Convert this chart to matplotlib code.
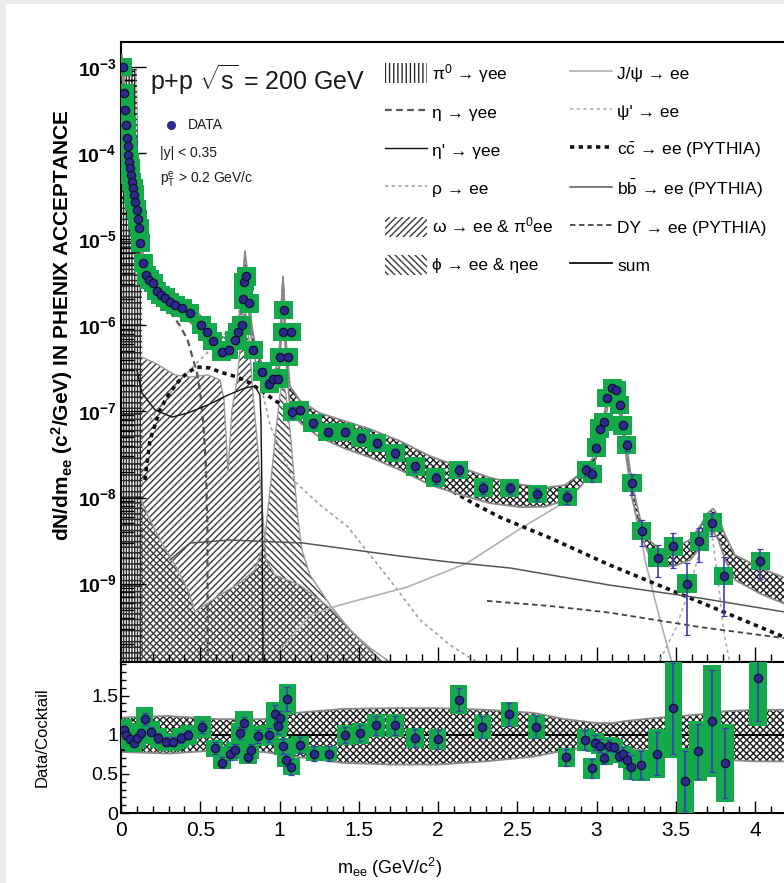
import numpy as np
import matplotlib.pyplot as plt
from matplotlib import font_manager
from matplotlib.patches import Patch, Rectangle
from matplotlib.lines import Line2D
from matplotlib.ticker import MultipleLocator, LogLocator, NullFormatter, FuncFormatter

plt.rcParams['font.family'] = ['Liberation Sans', 'DejaVu Sans']
plt.rcParams['mathtext.fontset'] = 'custom'
plt.rcParams['mathtext.rm'] = 'Liberation Sans'
plt.rcParams['mathtext.it'] = 'Liberation Sans:italic'
plt.rcParams['mathtext.bf'] = 'Liberation Sans:bold'
plt.rcParams['hatch.linewidth'] = 1.0

_names = {f.name for f in font_manager.fontManager.ttflist}
NARROW = 'Liberation Sans Narrow' if 'Liberation Sans Narrow' in _names else 'Liberation Sans'

# ---- measured spectrum (dN/dm in acceptance) ----
data_mass = [0.011, 0.019, 0.025, 0.032, 0.036, 0.042, 0.047, 0.052, 0.057, 0.063,
             0.069, 0.076, 0.082, 0.088, 0.098, 0.105, 0.114, 0.123, 0.139, 0.158,
             0.177, 0.202, 0.227, 0.252, 0.278, 0.309, 0.341, 0.385, 0.435, 0.505,
             0.543, 0.580, 0.637, 0.681, 0.719, 0.738, 0.763, 0.770, 0.776, 0.789,
             0.808, 0.833, 0.890, 0.934, 0.959, 0.991, 1.003, 1.022, 1.028, 1.054,
             1.073, 1.080, 1.129, 1.211, 1.306, 1.413, 1.514, 1.615, 1.729, 1.855,
             1.987, 2.132, 2.284, 2.454, 2.625, 2.814, 2.934, 2.972, 2.997, 3.022,
             3.047, 3.066, 3.098, 3.123, 3.148, 3.167, 3.192, 3.224, 3.287, 3.388,
             3.483, 3.571, 3.647, 3.729, 3.804, 4.032]
data_val = [1.0e-3, 5.0e-4, 3.2e-4, 2.1e-4, 1.5e-4, 1.2e-4, 9.5e-5, 7.9e-5, 6.7e-5, 5.6e-5,
            4.6e-5, 3.9e-5, 3.3e-5, 2.7e-5, 2.2e-5, 1.7e-5, 1.35e-5, 9.0e-6, 5.3e-6, 3.8e-6,
            3.4e-6, 3.1e-6, 2.5e-6, 2.25e-6, 2.1e-6, 1.87e-6, 1.72e-6, 1.59e-6, 1.39e-6, 1.01e-6,
            8.4e-7, 6.6e-7, 4.9e-7, 5.2e-7, 6.7e-7, 8.4e-7, 1.0e-6, 2.0e-6, 3.2e-6, 3.7e-6,
            1.8e-6, 5.2e-7, 2.9e-7, 2.1e-7, 2.4e-7, 2.4e-7, 4.3e-7, 8.4e-7, 1.5e-6, 4.3e-7,
            8.4e-7, 9.8e-8, 1.04e-7, 7.3e-8, 5.8e-8, 5.8e-8, 4.9e-8, 4.3e-8, 3.3e-8, 2.3e-8,
            1.7e-8, 2.1e-8, 1.3e-8, 1.29e-8, 1.1e-8, 1.01e-8, 2.1e-8, 1.87e-8, 3.8e-8, 6.3e-8,
            7.5e-8, 1.43e-7, 1.87e-7, 1.77e-7, 1.19e-7, 6.9e-8, 4.1e-8, 1.47e-8, 4.1e-9, 2.0e-9,
            2.7e-9, 1.0e-9, 3.1e-9, 5.1e-9, 1.22e-9, 1.83e-9]
data_err = [3e-5, 2e-5, 1.2e-5, 8e-6, 6e-6, 5e-6, 4e-6, 3e-6, 3e-6, 2e-6,
            2e-6, 1.5e-6, 1.3e-6, 1.1e-6, 9e-7, 7e-7, 6e-7, 4e-7, 3e-7, 2e-7,
            2e-7, 2e-7, 1.5e-7, 1.4e-7, 1.3e-7, 1.2e-7, 1.1e-7, 1e-7, 1e-7, 8e-8,
            7e-8, 6e-8, 5e-8, 5e-8, 6e-8, 7e-8, 8e-8, 1.2e-7, 1.8e-7, 2e-7,
            1.2e-7, 5e-8, 3e-8, 2.5e-8, 2.5e-8, 2.5e-8, 4e-8, 6e-8, 1e-7, 4e-8,
            6e-8, 1.5e-8, 1e-8, 8e-9, 6e-9, 6e-9, 5e-9, 5e-9, 4e-9, 3e-9,
            2.5e-9, 3e-9, 2e-9, 2e-9, 1.8e-9, 1.8e-9, 3e-9, 3.5e-9, 4e-9, 5e-9,
            6e-9, 9e-9, 1e-8, 1e-8, 8e-9, 6e-9, 6e-9, 4e-9, 1.4e-9, 8e-10,
            1.2e-9, 7.5e-10, 1.3e-9, 1.5e-9, 8e-10, 7e-10]

# ---- cocktail components ----
pi0_mass = [0.003, 0.100, 0.110, 0.125, 0.133, 0.136]
pi0_top = [9.5e-4, 9.5e-4, 4e-5, 1.5e-5, 6e-6, 1.23e-10]

eta_mass = [0.005, 0.05, 0.10, 0.14, 0.20, 0.26, 0.32, 0.37, 0.42, 0.455, 0.48, 0.50, 0.52, 0.535, 0.545, 0.547]
eta_val = [5e-5, 2.0e-5, 8e-6, 4.0e-6, 2.2e-6, 1.7e-6, 1.35e-6, 1.0e-6, 6.8e-7, 4.0e-7, 2.8e-7, 1.6e-7, 7e-8, 2.5e-8, 5e-9, 1.2e-10]

etap_mass = [0.101, 0.132, 0.215, 0.322, 0.423, 0.549, 0.675, 0.782, 0.845, 0.877, 0.883, 0.890, 0.896]
etap_val = [3.0e-7, 1.64e-7, 1.04e-7, 8.6e-8, 9.6e-8, 1.19e-7, 1.55e-7, 1.87e-7, 1.97e-7, 1.55e-7, 7.9e-8, 9.4e-9, 1.2e-10]

rho_mass = [0.183, 0.372, 0.498, 0.625, 0.719, 0.763, 0.789, 0.814, 0.845, 0.890, 0.940,
            1.085, 1.256, 1.432, 1.697, 1.886, 2.076, 2.202, 2.26]
rho_val = [7.9e-8, 2.3e-7, 3.95e-7, 6.75e-7, 1.15e-6, 1.72e-6, 1.82e-6, 1.22e-6, 5.9e-7, 1.77e-7, 6.95e-8,
           1.6e-8, 8.2e-9, 4.55e-9, 1.1e-9, 3.8e-10, 1.94e-10, 1.37e-10, 1.2e-10]

omega_mass = [0.126, 0.215, 0.341, 0.435, 0.549, 0.625, 0.650, 0.675, 0.700, 0.732, 0.757,
              0.782, 0.808, 0.833, 0.864, 0.890, 0.915, 0.972, 1.129, 1.319, 1.508, 1.634]
omega_top = [4.3e-7, 3.65e-7, 2.65e-7, 2.51e-7, 2.65e-7, 2.32e-7, 1.36e-7, 1.98e-8, 1.04e-7, 2.32e-7, 6.75e-7,
             1.72e-6, 6.75e-7, 1.55e-7, 3.56e-8, 8.2e-9, 1.88e-9, 1.26e-9, 9.6e-10, 5.2e-10, 2.2e-10, 1.23e-10]

phi_mass = [0.126, 0.183, 0.246, 0.341, 0.423, 0.467, 0.530, 0.625, 0.751, 0.845, 0.902, 0.927, 0.953,
            0.978, 1.003, 1.022, 1.041, 1.066, 1.091, 1.117, 1.142, 1.192, 1.319, 1.445, 1.571, 1.697]
phi_top = [9.4e-9, 5.5e-9, 3.21e-9, 1.64e-9, 8.4e-10, 4.7e-10, 5.65e-10, 7.4e-10, 1.02e-9, 1.44e-9, 2.81e-9, 7.2e-9, 2.09e-8,
           6.1e-8, 1.55e-7, 2.44e-7, 1.55e-7, 6.1e-8, 1.82e-8, 5.5e-9, 2.45e-9, 1.26e-9, 5.65e-10, 2.9e-10, 1.79e-10, 1.23e-10]

jpsi_mass = [1.003, 1.192, 1.382, 1.804, 2.183, 2.536, 2.751, 2.896, 2.991, 3.054, 3.098,
             3.136, 3.180, 3.243, 3.306, 3.401, 3.476]
jpsi_val = [1.7e-10, 4.3e-10, 5.65e-10, 9.1e-10, 1.73e-9, 4.55e-9, 7.8e-9, 1.40e-8, 3.12e-8, 9.1e-8, 1.77e-7,
            1.36e-7, 4.66e-8, 9.4e-9, 1.88e-9, 3.8e-10, 1.2e-10]

psip_mass = [3.40, 3.50, 3.58, 3.64, 3.68, 3.70, 3.73, 3.77, 3.80, 3.84]
psip_val = [1.3e-10, 3e-10, 8e-10, 2.0e-9, 4.0e-9, 5.0e-9, 3.5e-9, 1.0e-9, 3e-10, 1.2e-10]

cc_mass = [0.151, 0.183, 0.246, 0.290, 0.353, 0.416, 0.480, 0.562, 0.625, 0.732, 0.814, 0.896,
           0.984, 1.129, 1.445, 1.760, 2.221, 2.391, 2.707, 3.085, 3.653, 4.183]
cc_val = [1.6e-8, 4.66e-8, 1.04e-7, 1.47e-7, 2.14e-7, 2.79e-7, 3.28e-7, 3.19e-7, 2.87e-7, 2.51e-7, 2.14e-7, 1.68e-7,
          1.29e-7, 9.6e-8, 5.0e-8, 2.65e-8, 8.6e-9, 5.9e-9, 3.39e-9, 1.64e-9, 6.1e-10, 2.4e-10]

bb_mass = [0.309, 0.435, 0.688, 1.148, 1.382, 1.760, 2.076, 2.454, 3.085, 3.653, 4.183]
bb_val = [1.88e-9, 2.96e-9, 3.21e-9, 2.96e-9, 2.59e-9, 2.09e-9, 1.78e-9, 1.52e-9, 9.6e-10, 6.8e-10, 4.7e-10]

dy_mass = [2.309, 2.707, 3.085, 3.653, 4.183]
dy_val = [6.3e-10, 5.5e-10, 4.6e-10, 3.13e-10, 2.33e-10]

sum_mass = [0.006, 0.019, 0.032, 0.044, 0.063, 0.082, 0.101, 0.114, 0.126, 0.139,
            0.158, 0.183, 0.215, 0.246, 0.309, 0.372, 0.435, 0.498, 0.562, 0.625,
            0.675, 0.713, 0.738, 0.757, 0.770, 0.782, 0.795, 0.808, 0.827, 0.852,
            0.890, 0.927, 0.965, 0.991, 1.003, 1.016, 1.022, 1.028, 1.041, 1.066,
            1.129, 1.256, 1.413, 1.571, 1.760, 1.950, 2.139, 2.328, 2.517, 2.675,
            2.801, 2.896, 2.972, 3.022, 3.054, 3.079, 3.104, 3.129, 3.161, 3.192,
            3.224, 3.274, 3.338, 3.401, 3.495, 3.590, 3.653, 3.703, 3.735, 3.767,
            3.811, 3.874, 4.032, 4.183]
sum_val = [1.14e-3, 5.1e-4, 2.2e-4, 1.0e-4, 5.9e-5, 3.4e-5, 2.1e-5, 1.35e-5, 8.6e-6, 5.4e-6,
           4.05e-6, 3.3e-6, 2.8e-6, 2.37e-6, 1.91e-6, 1.63e-6, 1.39e-6, 1.09e-6, 8.1e-7, 6.2e-7,
           5.9e-7, 7.1e-7, 9.3e-7, 1.32e-6, 2.57e-6, 6.05e-6, 3.84e-6, 1.72e-6, 7.7e-7, 4.5e-7,
           3.0e-7, 2.44e-7, 2.38e-7, 2.87e-7, 5.2e-7, 1.97e-6, 2.94e-6, 1.97e-6, 5.2e-7, 1.55e-7,
           1.04e-7, 7.3e-8, 5.8e-8, 4.66e-8, 3.38e-8, 2.26e-8, 1.69e-8, 1.29e-8, 1.1e-8, 1.04e-8,
           1.16e-8, 1.6e-8, 2.39e-8, 4.66e-8, 9.1e-8, 1.68e-7, 2.03e-7, 1.68e-7, 7.9e-8, 3.12e-8,
           1.22e-8, 4.8e-9, 2.59e-9, 2.04e-9, 2.15e-9, 2.59e-9, 3.67e-9, 5.2e-9, 5.8e-9, 4.8e-9,
           2.81e-9, 1.64e-9, 1.16e-9, 8.9e-10]

# ---- cocktail systematic band (relative) ----
band_mass = [0.0, 0.3, 0.6, 0.9, 1.1, 1.4, 1.7, 2.0, 2.3, 2.6, 2.8, 3.0, 3.1, 3.2, 3.4, 3.6, 3.8, 4.0, 4.3]
band_hi = [1.22, 1.24, 1.20, 1.20, 1.28, 1.33, 1.34, 1.34, 1.32, 1.28, 1.20, 1.15, 1.15, 1.18, 1.22, 1.25, 1.30, 1.32, 1.32]
band_lo = [0.78, 0.76, 0.80, 0.78, 0.72, 0.64, 0.62, 0.62, 0.66, 0.72, 0.80, 0.85, 0.85, 0.82, 0.78, 0.72, 0.68, 0.66, 0.66]

# ---- data / cocktail ----
ratio_mass = [0.016, 0.030, 0.057, 0.080, 0.100, 0.126, 0.150, 0.190, 0.236, 0.283,
              0.330, 0.377, 0.425, 0.513, 0.590, 0.638, 0.685, 0.720, 0.750, 0.777,
              0.800, 0.818, 0.865, 0.934, 0.970, 0.990, 1.000, 1.020, 1.040, 1.050,
              1.075, 1.130, 1.220, 1.310, 1.415, 1.510, 1.610, 1.730, 1.855, 1.997,
              2.130, 2.280, 2.450, 2.620, 2.810, 2.930, 2.970, 2.990, 3.020, 3.050,
              3.080, 3.110, 3.145, 3.170, 3.190, 3.220, 3.280, 3.380, 3.485, 3.560,
              3.640, 3.730, 3.810, 4.020]
ratio_val = [1.06, 1.00, 0.94, 0.89, 0.96, 1.02, 1.20, 1.04, 0.96, 0.91,
             0.91, 0.96, 1.00, 1.10, 0.83, 0.64, 0.76, 0.80, 1.02, 1.15,
             0.72, 0.80, 0.98, 1.00, 1.26, 1.11, 1.21, 0.85, 0.68, 1.46,
             0.59, 0.87, 0.76, 0.76, 1.00, 1.02, 1.12, 1.12, 0.96, 0.94,
             1.45, 1.10, 1.26, 1.10, 0.71, 0.93, 0.57, 0.90, 0.86, 0.70,
             0.86, 0.84, 0.73, 0.76, 0.68, 0.59, 0.61, 0.76, 1.34, 0.41,
             0.79, 1.18, 0.64, 1.72]
ratio_err = [0.05, 0.05, 0.05, 0.05, 0.05, 0.06, 0.08, 0.06, 0.06, 0.06,
             0.06, 0.06, 0.06, 0.08, 0.08, 0.07, 0.08, 0.08, 0.08, 0.08,
             0.07, 0.08, 0.08, 0.09, 0.12, 0.10, 0.10, 0.10, 0.08, 0.15,
             0.10, 0.10, 0.09, 0.09, 0.10, 0.10, 0.12, 0.12, 0.12, 0.12,
             0.15, 0.14, 0.15, 0.14, 0.11, 0.13, 0.12, 0.10, 0.08, 0.07,
             0.07, 0.06, 0.07, 0.08, 0.10, 0.15, 0.18, 0.28, 0.58, 0.38,
             0.35, 0.65, 0.45, 0.55]

GREEN = '#14a94b'
BLUE = '#2c2a8f'
BAR = '#3d3cb8'
YMIN, YMAX = 1.23e-10, 1.95e-3
L = 121 / 784
W = 1.02 - L
XMAX = W * 784 / 158.5

fig = plt.figure(figsize=(7.84, 8.83), dpi=100)
fig.add_artist(Rectangle((0, 0), 6 / 784, 1, transform=fig.transFigure, color='#ebebeb', lw=0))
fig.add_artist(Rectangle((0, 1 - 4 / 883), 1, 4 / 883, transform=fig.transFigure, color='#ebebeb', lw=0))

ax = fig.add_axes([L, 221 / 883, W, 620 / 883])
ax2 = fig.add_axes([L, 70 / 883, W, 151 / 883])

# hatched cocktail pieces
ax.fill_between(pi0_mass, YMIN, pi0_top, facecolor='none', edgecolor='#2a2a2a', hatch='|||+++', lw=0, zorder=1)
ax.fill_between(omega_mass, YMIN, omega_top, facecolor='none', edgecolor='#3a3a3a', hatch='/////', lw=0, zorder=1)
ax.fill_between(phi_mass, YMIN, phi_top, facecolor='none', edgecolor='#3a3a3a', hatch='\\\\\\\\\\', lw=0, zorder=1)
ax.plot(omega_mass, omega_top, color='#999999', lw=1.0, zorder=1.5)
ax.plot(phi_mass, phi_top, color='#999999', lw=1.0, zorder=1.5)

# line components
ax.plot(eta_mass, eta_val, color='#555555', ls=(0, (3, 2)), lw=1.6, zorder=2)
ax.plot(etap_mass, etap_val, color='#111111', lw=1.0, zorder=2)
ax.plot(rho_mass, rho_val, color='#a0a0a0', ls=(0, (2, 2)), lw=1.2, zorder=2)
ax.plot(jpsi_mass, jpsi_val, color='#b0b0b0', lw=1.2, zorder=2)
ax.plot(psip_mass, psip_val, color='#b0b0b0', ls=(0, (2, 2)), lw=1.2, zorder=2)
ax.plot(cc_mass, cc_val, color='#111111', ls=(0, (1.2, 1.2)), lw=2.6, zorder=2)
ax.plot(bb_mass, bb_val, color='#555555', lw=1.1, zorder=2)
ax.plot(dy_mass, dy_val, color='#444444', ls=(0, (3, 2)), lw=1.3, zorder=2)

# sum with its systematic band
sum_m = np.array(sum_mass)
sum_v = np.array(sum_val)
s_hi = sum_v * np.interp(sum_m, band_mass, band_hi)
s_lo = sum_v * np.interp(sum_m, band_mass, band_lo)
ax.plot(sum_m, sum_v, color='#555555', lw=1.6, zorder=2.8)
ax.fill_between(sum_m, s_lo, s_hi, facecolor='white', edgecolor='#1e1e1e', hatch='xxxxx', lw=0, zorder=3)
ax.plot(sum_m, s_hi, color='#8a8a8a', lw=1.3, zorder=3.1)
ax.plot(sum_m, s_lo, color='#8a8a8a', lw=1.3, zorder=3.1)

# data: systematic boxes, statistical bars
BOX_W = 0.06
SYS = 1.28
for m, v in zip(data_mass, data_val):
    ax.add_patch(Rectangle((m - BOX_W, v / SYS), 2 * BOX_W, v * SYS - v / SYS,
                           facecolor=GREEN, edgecolor='none', zorder=4))
ax.errorbar(data_mass, data_val, yerr=data_err, fmt='o', ms=6, mfc=BLUE, mec='#111133', mew=0.9,
            ecolor=BAR, elinewidth=1.2, capsize=2.5, zorder=6)

ax.set_xlim(0, XMAX)
ax.set_yscale('log')
ax.set_ylim(YMIN, YMAX)
ax.xaxis.set_major_locator(MultipleLocator(0.5))
ax.xaxis.set_minor_locator(MultipleLocator(0.1))
ax.tick_params(axis='x', which='both', direction='in', labelbottom=False, bottom=True, top=False, width=1.0)
ax.tick_params(axis='x', which='major', length=11)
ax.tick_params(axis='x', which='minor', length=5.5)
ax.yaxis.set_major_locator(LogLocator(base=10, numticks=20))
ax.yaxis.set_minor_locator(LogLocator(base=10, subs=np.arange(2, 10), numticks=20))
ax.yaxis.set_minor_formatter(NullFormatter())
ax.yaxis.set_major_formatter(FuncFormatter(lambda v, p: r'$\mathbf{10^{%d}}$' % round(np.log10(v))))
ax.tick_params(axis='y', which='both', direction='in', right=False, width=1.0)
ax.tick_params(axis='y', which='major', length=18, labelsize=14, pad=3)
ax.tick_params(axis='y', which='minor', length=9)
for s in ax.spines.values():
    s.set_linewidth(1.5)

# annotations
ax.text(0.043, 0.939, r'p+p $\sqrt{\mathrm{s}}$ = 200 GeV', transform=ax.transAxes,
        fontsize=18, va='center', ha='left', color='#1a1a1a')
ax.plot([0.0737], [0.866], 'o', ms=5.5, color=BLUE, transform=ax.transAxes, zorder=7)
ax.text(0.099, 0.866, 'DATA', transform=ax.transAxes, fontsize=10, va='center', color='#1a1a1a')
ax.text(0.0575, 0.821, '|y| < 0.35', transform=ax.transAxes, fontsize=10, va='center', color='#1a1a1a')
ax.text(0.0575, 0.777, r'p$_\mathrm{T}^\mathrm{e}$ > 0.2 GeV/c', transform=ax.transAxes,
        fontsize=10, va='center', color='#1a1a1a')

handles = [
    Patch(facecolor='none', edgecolor='#2a2a2a', hatch='||||', lw=0, label=r'π$^0$ → γee'),
    Line2D([], [], color='#555555', ls=(0, (3, 2)), lw=1.6, label='η → γee'),
    Line2D([], [], color='#111111', lw=1.0, label="η' → γee"),
    Line2D([], [], color='#a0a0a0', ls=(0, (2, 2)), lw=1.2, label='ρ → ee'),
    Patch(facecolor='none', edgecolor='#3a3a3a', hatch='/////', lw=0, label=r'ω → ee & π$^0$ee'),
    Patch(facecolor='none', edgecolor='#3a3a3a', hatch='\\\\\\\\\\', lw=0, label='ϕ → ee & ηee'),
    Line2D([], [], color='#b0b0b0', lw=1.2, label='J/ψ → ee'),
    Line2D([], [], color='#b0b0b0', ls=(0, (2, 2)), lw=1.2, label="ψ' → ee"),
    Line2D([], [], color='#111111', ls=(0, (1.2, 1.2)), lw=2.6, label=r'c$\bar{\mathrm{c}}$ → ee (PYTHIA)'),
    Line2D([], [], color='#555555', lw=1.1, label=r'b$\bar{\mathrm{b}}$ → ee (PYTHIA)'),
    Line2D([], [], color='#444444', ls=(0, (3, 2)), lw=1.3, label='DY → ee (PYTHIA)'),
    Line2D([], [], color='#111111', lw=1.3, label='sum'),
]
ax.legend(handles=handles, ncol=2, loc='upper left', bbox_to_anchor=(0.389, 0.968),
          frameon=False, fontsize=12.5, handlelength=2.4, handleheight=1.4, handletextpad=0.3,
          labelspacing=1.02, columnspacing=1.0, borderpad=0, borderaxespad=0)

# ratio panel
ax2.fill_between(band_mass, band_lo, band_hi, facecolor='white', edgecolor='#1e1e1e', hatch='xxxxx', lw=0, zorder=1)
ax2.plot(band_mass, band_hi, color='#8a8a8a', lw=1.3, zorder=1.5)
ax2.plot(band_mass, band_lo, color='#8a8a8a', lw=1.3, zorder=1.5)
ax2.axhline(1.0, color='black', lw=1.5, zorder=2)
for m, r, e in zip(ratio_mass, ratio_val, ratio_err):
    h = max(1.1 * e, 0.13 * r)
    ax2.add_patch(Rectangle((m - 0.055, r - h), 0.11, 2 * h, facecolor=GREEN, edgecolor='none', zorder=3))
ax2.errorbar(ratio_mass, ratio_val, yerr=ratio_err, fmt='o', ms=6, mfc=BLUE, mec='#111133', mew=0.9,
             ecolor=BAR, elinewidth=1.2, capsize=2.5, zorder=5)
ax2.set_xlim(0, XMAX)
ax2.set_ylim(0, 1.93)
ax2.xaxis.set_major_locator(MultipleLocator(0.5))
ax2.xaxis.set_minor_locator(MultipleLocator(0.1))
ax2.yaxis.set_major_locator(MultipleLocator(0.5))
ax2.yaxis.set_minor_locator(MultipleLocator(0.1))
ax2.xaxis.set_major_formatter(FuncFormatter(lambda v, p: '%g' % v))
ax2.yaxis.set_major_formatter(FuncFormatter(lambda v, p: '%g' % v))
ax2.tick_params(axis='both', which='both', direction='in', top=False, right=False, width=1.0)
ax2.tick_params(axis='x', which='major', length=9, labelsize=15, pad=6)
ax2.tick_params(axis='x', which='minor', length=5)
ax2.tick_params(axis='y', which='major', length=6, labelsize=14, pad=2)
ax2.tick_params(axis='y', which='minor', length=3.5)
for lab in ax2.get_xticklabels() + ax2.get_yticklabels():
    lab.set_family(NARROW)
for s in ax2.spines.values():
    s.set_linewidth(1.5)

fig.text(62 / 784, 1 - 325 / 883, r'dN/dm$_{\mathbf{ee}}$ (c$^{\mathbf{2}}$/GeV) IN PHENIX ACCEPTANCE',
         rotation=90, ha='center', va='center', fontsize=15, fontweight='bold')
fig.text(42 / 784, 1 - 737 / 883, 'Data/Cocktail', rotation=90, ha='center', va='center', fontsize=12)
fig.text(390 / 784, 1 - 868 / 883, r'm$_{\mathrm{ee}}$ (GeV/c$^2$)', ha='center', va='center',
         fontsize=13, family=NARROW)

fig.savefig('out.png', dpi=100)
